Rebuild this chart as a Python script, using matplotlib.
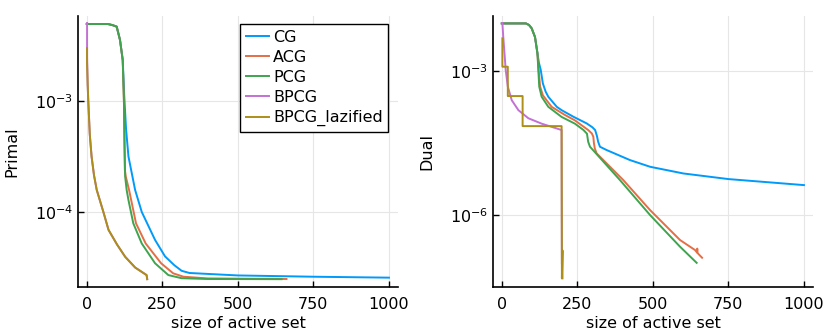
import matplotlib
matplotlib.use("Agg")
import matplotlib.pyplot as plt
from matplotlib.ticker import LogFormatterMathtext, NullLocator

# ---- Primal (left) ----
cg_p_x = [0, 70, 85, 99, 110, 119, 124, 130, 138, 160, 182, 226, 259, 290, 314, 340, 500, 750, 1000]
cg_p_y = [4.94e-3, 4.94e-3, 4.83e-3, 4.68e-3, 3.55e-3, 2.34e-3, 1.12e-3, 5.6e-4, 3.16e-4, 1.58e-4,
          1.0e-4, 5.6e-5, 3.98e-5, 3.31e-5, 2.95e-5, 2.82e-5, 2.68e-5, 2.61e-5, 2.56e-5]

acg_p_x = [0, 70, 85, 99, 110, 119, 123, 125, 126, 129, 140, 163, 195, 246, 286, 320, 400, 661]
acg_p_y = [4.94e-3, 4.94e-3, 4.83e-3, 4.68e-3, 3.55e-3, 2.34e-3, 1.0e-3, 3.98e-4, 2.40e-4, 2.09e-4,
           1.58e-4, 7.9e-5, 5.2e-5, 3.45e-5, 2.80e-5, 2.61e-5, 2.52e-5, 2.49e-5]

pcg_p_x = [0, 70, 85, 99, 110, 119, 123, 125, 127, 132, 138, 154, 182, 226, 270, 314, 400, 645]
pcg_p_y = [4.94e-3, 4.94e-3, 4.83e-3, 4.68e-3, 3.55e-3, 2.34e-3, 1.0e-3, 3.98e-4, 2.09e-4, 1.58e-4,
           1.28e-4, 7.9e-5, 5.2e-5, 3.45e-5, 2.70e-5, 2.53e-5, 2.49e-5, 2.48e-5]

bpcg_p_x = [1, 1, 3, 5, 10, 16, 24, 33, 55, 72, 100, 127, 160, 198, 200]
bpcg_p_y = [5.05e-3, 2.51e-3, 1.41e-3, 1.0e-3, 5.0e-4, 3.15e-4, 2.14e-4, 1.58e-4, 1.0e-4, 6.9e-5,
            5.1e-5, 3.95e-5, 3.16e-5, 2.70e-5, 2.48e-5]

lazy_p_x = [1, 1, 3, 5, 10, 16, 24, 33, 55, 72, 100, 127, 160, 198, 200]
lazy_p_y = [3.0e-3, 2.2e-3, 1.41e-3, 1.0e-3, 5.0e-4, 3.15e-4, 2.14e-4, 1.58e-4, 1.0e-4, 6.9e-5,
            5.1e-5, 3.95e-5, 3.16e-5, 2.70e-5, 2.48e-5]

# ---- Dual (right) ----
cg_d_x = [0, 80, 90, 99, 110, 118, 123, 129, 136, 145, 154, 182, 198, 237, 281, 300, 309, 315, 319,
          325, 347, 424, 491, 601, 750, 1000]
cg_d_y = [1e-2, 1e-2, 9.3e-3, 7.9e-3, 5.2e-3, 2.4e-3, 1.51e-3, 1.07e-3, 5.6e-4, 3.8e-4, 2.95e-4,
          1.82e-4, 1.55e-4, 1.13e-4, 8.2e-5, 6.8e-5, 5.96e-5, 4.47e-5, 3.39e-5, 2.67e-5, 2.28e-5,
          1.41e-5, 1.02e-5, 7.4e-6, 5.65e-6, 4.23e-6]

acg_d_x = [0, 80, 90, 99, 110, 118, 122, 127, 136, 165, 209, 242, 286, 298, 303, 305, 308, 314,
           402, 491, 590, 640, 646, 647, 648, 655, 663]
acg_d_y = [1e-2, 1e-2, 9.3e-3, 7.9e-3, 5.2e-3, 2.4e-3, 1.07e-3, 4.8e-4, 3.16e-4, 1.82e-4, 1.23e-4,
           9.5e-5, 5.96e-5, 5.07e-5, 4.32e-5, 3.16e-5, 2.45e-5, 1.94e-5, 5.4e-6, 1.27e-6, 3.02e-7,
           1.86e-7, 1.66e-7, 2.0e-7, 1.62e-7, 1.45e-7, 1.29e-7]

pcg_d_x = [0, 80, 90, 99, 110, 118, 121, 124, 132, 154, 198, 242, 270, 282, 286, 292, 310, 391,
           491, 590, 645]
pcg_d_y = [1e-2, 1e-2, 9.3e-3, 7.9e-3, 5.2e-3, 2.4e-3, 1.07e-3, 4.8e-4, 2.95e-4, 1.82e-4, 1.12e-4,
           8.1e-5, 6.0e-5, 5.0e-5, 3.39e-5, 2.67e-5, 2.0e-5, 5.4e-6, 1.0e-6, 2.19e-7, 1.01e-7]

bpcg_d_x = [2, 5, 9, 13, 20, 33, 55, 88, 132, 198, 199]
bpcg_d_y = [1.02e-2, 5.2e-3, 2.4e-3, 1.07e-3, 4.8e-4, 2.5e-4, 1.55e-4, 1.05e-4, 8.1e-5, 5.96e-5, 1.0e-7]

lazy_d_x = [2, 2, 20, 20, 69, 69, 198, 199, 201, 201]
lazy_d_y = [4.89e-3, 1.25e-3, 1.25e-3, 3.05e-4, 3.05e-4, 7.2e-5, 7.2e-5, 4.8e-8, 1.84e-7, 4.8e-8]

labels = ["CG", "ACG", "PCG", "BPCG", "BPCG_lazified"]
colors = ["#009AFA", "#E36F47", "#3EA44E", "#C371D2", "#AC8E18"]

primal = [(cg_p_x, cg_p_y), (acg_p_x, acg_p_y), (pcg_p_x, pcg_p_y), (bpcg_p_x, bpcg_p_y), (lazy_p_x, lazy_p_y)]
dual = [(cg_d_x, cg_d_y), (acg_d_x, acg_d_y), (pcg_d_x, pcg_d_y), (bpcg_d_x, bpcg_d_y), (lazy_d_x, lazy_d_y)]

plt.rcParams["font.family"] = "DejaVu Sans"
fig = plt.figure(figsize=(8.3, 3.32), dpi=100)
ax1 = fig.add_axes([78 / 830, 45 / 332, 320 / 830, 271 / 332])
ax2 = fig.add_axes([493 / 830, 45 / 332, 320 / 830, 271 / 332])


def style(ax, ylabel, yticks, ylim):
    ax.set_yscale("log")
    ax.set_xlim(-29, 1030)
    ax.set_ylim(*ylim)
    ax.set_xticks([0, 250, 500, 750, 1000])
    ax.set_yticks(yticks)
    ax.yaxis.set_major_formatter(LogFormatterMathtext())
    ax.yaxis.set_minor_locator(NullLocator())
    ax.grid(True, color="#e6e6e6", linewidth=0.8)
    ax.set_axisbelow(True)
    for s in ["top", "right"]:
        ax.spines[s].set_visible(False)
    for s in ["left", "bottom"]:
        ax.spines[s].set_linewidth(1.2)
    ax.tick_params(direction="in", length=4, width=1, labelsize=11.5)
    ax.tick_params(axis="x", pad=7)
    ax.set_xlabel("size of active set", fontsize=11.5, labelpad=3)
    ax.set_ylabel(ylabel, fontsize=11.5, labelpad=11)


for (x, y), c, lab in zip(primal, colors, labels):
    ax1.plot(x, y, color=c, lw=1.4, label=lab)
for (x, y), c in zip(dual, colors):
    ax2.plot(x, y, color=c, lw=1.4)

style(ax1, "Primal", [1e-3, 1e-4], (10 ** -4.676, 10 ** -2.234))
style(ax2, "Dual", [1e-3, 1e-6], (10 ** -7.5, 10 ** -1.845))

leg = ax1.legend(loc="upper right", bbox_to_anchor=(0.97, 0.97), fontsize=11.5, frameon=True,
                 fancybox=False, framealpha=1, edgecolor="black", handlelength=1.45,
                 handletextpad=0.25, borderpad=0.35, labelspacing=0.32, borderaxespad=0)
leg.get_frame().set_linewidth(1.0)

fig.savefig("out.png", dpi=100)
